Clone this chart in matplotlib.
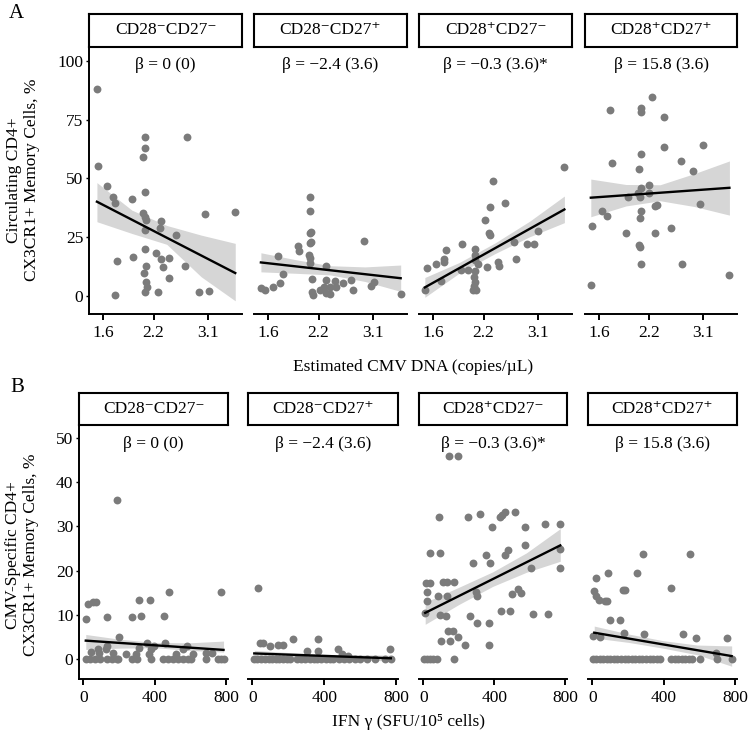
import matplotlib
matplotlib.use("Agg")
import matplotlib.pyplot as plt

plt.rcParams['font.family'] = ['Liberation Serif', 'DejaVu Serif']

# ---- labels ----
strip_labels = ['CD28⁻CD27⁻', 'CD28⁻CD27⁺', 'CD28⁺CD27⁻', 'CD28⁺CD27⁺']
beta_labels = ['β = 0 (0)', 'β = −2.4 (3.6)', 'β = −0.3 (3.6)*', 'β = 15.8 (3.6)']
a_ticks = [1.6, 2.2, 3.1]
a_yticks = [0, 25, 50, 75, 100]
b_ticks = [0, 400, 800]
b_yticks = [0, 10, 20, 30, 40, 50]

# ---- row A: circulating cells vs CMV DNA ----
a1_x = [1.54, 1.55, 1.64, 1.70, 1.73, 1.75, 1.73, 1.92, 1.93, 2.06, 2.09, 2.09, 2.09,
        2.06, 2.08, 2.10, 2.09, 2.09, 2.10, 2.07, 2.10, 2.11, 2.08, 2.23, 2.26, 2.30,
        2.29, 2.30, 2.34, 2.42, 2.43, 2.54, 2.68, 2.72, 2.93, 3.11, 3.05, 3.68]
a1_y = [88, 55.2, 46.7, 42.2, 39.4, 14.9, 0.6, 41.1, 16.7, 59.1, 67.7, 63.0, 44.1,
        35.1, 33.4, 32.3, 28.0, 19.8, 12.9, 9.9, 6.1, 3.7, 1.8, 18.4, 1.8, 31.9,
        28.8, 15.6, 12.2, 16.1, 7.9, 25.9, 12.9, 67.7, 1.6, 2.1, 34.8, 35.7]

a2_x = [1.53, 1.57, 1.65, 1.70, 1.73, 1.76, 1.93, 1.94, 2.07, 2.09, 2.09, 2.09, 2.09,
        2.09, 2.09, 2.10, 2.10, 2.11, 2.11, 2.12, 2.22, 2.28, 2.30, 2.30, 2.31, 2.36,
        2.36, 2.44, 2.45, 2.56, 2.70, 2.73, 2.93, 3.07, 3.12, 3.69]
a2_y = [3.3, 2.8, 3.7, 17.0, 5.7, 9.3, 21.4, 19.1, 17.4, 16.0, 13.9, 22.4, 27.0,
        36.1, 42.2, 22.8, 27.2, 7.2, 1.8, 0.5, 2.5, 3.7, 12.9, 6.8, 1.4, 0.7,
        3.7, 6.4, 3.7, 5.4, 6.8, 2.8, 23.5, 4.2, 6.1, 1.1]

a3_x = [3.66, 2.33, 2.52, 2.29, 2.22, 2.28, 2.29, 3.10, 2.89, 3.03, 2.67, 2.70, 2.41,
        2.42, 2.25, 2.12, 2.09, 2.09, 2.09, 2.08, 2.07, 2.09, 2.07, 2.06, 2.10, 1.92,
        1.91, 1.74, 1.72, 1.71, 1.63, 1.54, 1.68, 1.52, 2.00]
a3_y = [55.0, 48.9, 39.7, 37.7, 32.3, 26.9, 26.0, 27.6, 22.0, 22.0, 23.1, 15.7, 14.6,
        12.7, 12.5, 13.6, 19.8, 17.4, 15.3, 10.8, 8.2, 6.1, 4.3, 2.4, 2.4, 22.0,
        11.3, 19.5, 15.6, 14.6, 13.5, 12.0, 6.4, 2.5, 11.3]

a4_x = [1.52, 1.53, 1.63, 1.68, 1.72, 1.74, 1.90, 1.93, 2.05, 2.06, 2.09, 2.09, 2.09,
        2.09, 2.08, 2.09, 2.08, 2.06, 2.07, 2.09, 2.24, 2.20, 2.20, 2.29, 2.31, 2.29,
        2.42, 2.42, 2.53, 2.70, 2.71, 2.90, 3.10, 3.04, 3.66]
a4_y = [4.7, 29.7, 36.1, 34.0, 79.0, 56.4, 26.6, 42.2, 43.9, 53.8, 79.8, 78.2, 60.3,
        45.8, 42.2, 36.3, 33.1, 21.7, 21.0, 13.6, 84.4, 47.2, 43.9, 38.4, 38.5, 26.6,
        76.2, 63.5, 29.0, 57.5, 13.6, 53.3, 64.2, 39.1, 8.8]

# fitted lines and confidence bands
a1_fx = [1.54, 1.92, 2.39, 2.97, 3.68]
a1_fit = [40.1, 9.8]
a1_lo = [31.6, 26.6, 22.0, 8.2, -2.0]
a1_hi = [48.2, 36.5, 30.0, 25.9, 22.4]

a2_fx = [1.53, 1.90, 2.37, 2.95, 3.69]
a2_fit = [14.3, 7.6]
a2_lo = [10.3, 9.7, 9.0, 6.2, 2.0]
a2_hi = [18.4, 15.5, 12.9, 12.4, 13.2]

a3_fx = [1.52, 1.89, 2.36, 2.94, 3.66]
a3_fit = [3.7, 36.8]
a3_lo = [-0.5, 9.8, 18.0, 25.2, 31.2]
a3_hi = [7.9, 14.3, 22.5, 31.8, 42.5]

a4_fx = [1.52, 1.90, 2.36, 2.94, 3.66]
a4_fit = [41.8, 46.0]
a4_lo = [33.7, 38.3, 40.5, 38.0, 34.4]
a4_hi = [49.7, 47.4, 47.3, 52.1, 57.4]

# ---- row B: CMV-specific cells vs IFN gamma ----
b1_x = [13, 28, 56, 69, 186, 134, 201, 270, 309, 322, 372, 452, 478, 768,
        41, 84, 89, 126, 134, 164, 236, 292, 313, 357, 381, 394, 368, 456, 521, 558,
        580, 614, 688, 722,
        13, 37, 65, 93, 130, 158, 186, 195, 270, 298, 381, 446, 474, 502, 530, 558,
        586, 604, 688, 753, 772, 785]
b1_y = [9.0, 12.3, 12.8, 12.9, 36.0, 9.4, 5.0, 9.4, 13.4, 9.7, 13.4, 9.7, 15.1, 15.1,
        1.5, 2.3, 1.2, 2.3, 2.9, 1.2, 1.0, 1.1, 2.5, 3.6, 2.1, 2.9, 1.0, 3.6, 1.1, 2.1,
        2.9, 1.1, 1.4, 1.4,
        0, 0, 0, 0, 0, 0, 0, 0, 0, 0, 0, 0, 0, 0, 0, 0,
        0, 0, 0, 0, 0, 0]

b2_x = [30, 40, 58, 96, 140, 168, 228, 303, 363, 363, 476, 499, 532, 763,
        10, 25, 45, 70, 90, 110, 130, 150, 170, 190, 210, 250, 270, 290, 320, 340,
        360, 380, 410, 430, 450, 480, 510, 540, 570, 600, 640, 684, 740, 770]
b2_y = [16.0, 3.6, 3.6, 2.9, 3.1, 3.1, 4.4, 1.7, 4.4, 1.7, 2.3, 1.0, 0.6, 2.1,
        0, 0, 0, 0, 0, 0, 0, 0, 0, 0, 0, 0, 0, 0, 0, 0,
        0, 0, 0, 0, 0, 0, 0, 0, 0, 0, 0, 0, 0, 0]

b3_x = [144, 196, 90, 252, 318, 389, 434, 445, 458, 514, 574, 686, 772, 574, 476, 462,
        355, 378, 277, 38, 94, 607, 772, 772, 15, 38, 112, 131, 174, 22, 22, 81, 131,
        295, 303, 501, 533, 552, 10, 94, 127, 262, 303, 370, 439, 486, 617, 701, 137,
        168, 196, 99, 150, 234, 368,
        5, 20, 35, 55, 75, 174]
b3_y = [46.0, 46.0, 32.1, 32.1, 32.8, 29.9, 32.1, 32.7, 33.2, 33.2, 29.9, 30.5, 30.5,
        25.9, 24.7, 23.6, 23.5, 21.7, 21.7, 24.0, 24.0, 20.6, 24.9, 20.6, 17.2, 17.2,
        17.3, 17.3, 17.4, 15.1, 13.0, 14.3, 14.3, 15.1, 14.3, 14.6, 15.7, 14.9, 10.4,
        10.0, 9.7, 9.7, 8.1, 8.1, 10.8, 10.8, 10.2, 10.2, 6.3, 6.3, 4.9, 4.0, 4.0, 3.2,
        3.2,
        0, 0, 0, 0, 0, 0]

b4_x = [22, 11, 19, 37, 69, 82, 87, 97, 153, 172, 181, 175, 247, 284, 289, 439, 505,
        545, 579, 754, 4, 41, 695,
        5, 20, 40, 60, 80, 100, 120, 140, 160, 180, 200, 220, 240, 260, 280, 300, 320,
        340, 360, 380, 440, 460, 480, 500, 520, 540, 560, 600, 700, 780]
b4_y = [18.3, 15.3, 14.3, 13.3, 13.0, 13.0, 19.5, 8.7, 8.7, 15.5, 15.5, 5.9, 19.5, 23.8,
        5.7, 16.1, 5.7, 23.8, 4.8, 4.8, 5.1, 5.0, 1.4,
        0, 0, 0, 0, 0, 0, 0, 0, 0, 0, 0, 0, 0, 0, 0, 0, 0,
        0, 0, 0, 0, 0, 0, 0, 0, 0, 0, 0, 0, 0]

b1_fx = [13, 206, 399, 592, 785]
b1_fit = [4.1, 2.0]
b1_lo = [2.1, 2.4, 2.5, 1.9, 1.5]
b1_hi = [5.5, 4.4, 3.7, 3.6, 4.0]

b2_fx = [10, 200, 390, 580, 770]
b2_fit = [1.2, 0.1]
b2_lo = [0.5, 0.5, 0.3, -0.1, -0.6]
b2_hi = [1.9, 1.4, 1.0, 0.9, 0.8]

b3_fx = [10, 200, 391, 581, 772]
b3_fit = [10.4, 25.7]
b3_lo = [7.8, 12.3, 16.4, 19.6, 22.1]
b3_hi = [12.8, 16.2, 19.7, 24.0, 29.5]

b4_fx = [10, 202, 395, 587, 780]
b4_fit = [5.9, 0.6]
b4_lo = [4.7, 3.7, 2.4, 0.9, -1.7]
b4_hi = [7.4, 5.6, 4.1, 3.1, 2.9]

W, H = 749, 734
POINT = '#7b7b7b'
BAND = '#d6d6d6'
FS = 12.5


def px_axes(fig, left, top, right, bottom):
    return fig.add_axes([left / W, 1 - bottom / H, (right - left) / W, (bottom - top) / H])


def draw_strip(fig, left, top, right, bottom, label):
    sax = px_axes(fig, left, top, right, bottom)
    sax.set_xticks([])
    sax.set_yticks([])
    for sp in sax.spines.values():
        sp.set_linewidth(1.5)
    sax.text(0.5, 0.5, label, ha='center', va='center', fontsize=FS, transform=sax.transAxes)


def draw_panel(ax, x, y, fx, fit, lo, hi, first):
    ax.fill_between(fx, lo, hi, color=BAND, lw=0, zorder=1)
    ax.scatter(x, y, s=32, color=POINT, lw=0, zorder=2)
    ax.plot([fx[0], fx[-1]], fit, color='black', lw=1.7, zorder=3)
    ax.spines['top'].set_visible(False)
    ax.spines['right'].set_visible(False)
    ax.spines['bottom'].set_linewidth(1.4)
    ax.spines['left'].set_linewidth(1.4)
    ax.tick_params(axis='x', length=4, width=1.4, pad=4, labelsize=FS)
    ax.tick_params(axis='y', length=2.5, width=1.0, pad=1.5, labelsize=FS)
    if not first:
        ax.spines['left'].set_visible(False)
        ax.tick_params(axis='y', left=False, labelleft=False)


fig = plt.figure(figsize=(W / 100, H / 100), dpi=100)

# row A
a_pos = [(89, 242), (254, 407), (419, 572), (585, 737)]
a_data = [(a1_x, a1_y, a1_fx, a1_fit, a1_lo, a1_hi),
          (a2_x, a2_y, a2_fx, a2_fit, a2_lo, a2_hi),
          (a3_x, a3_y, a3_fx, a3_fit, a3_lo, a3_hi),
          (a4_x, a4_y, a4_fx, a4_fit, a4_lo, a4_hi)]
for i, ((l, r), d) in enumerate(zip(a_pos, a_data)):
    ax = px_axes(fig, l, 47, r, 314)
    draw_panel(ax, *d, first=(i == 0))
    ax.set_xscale('log')
    ax.set_xlim(1.465, 3.84)
    ax.set_ylim(-7.6, 105.8)
    ax.set_xticks(a_ticks)
    ax.set_xticklabels([str(t) for t in a_ticks])
    ax.minorticks_off()
    ax.set_yticks(a_yticks)
    ax.annotate(beta_labels[i], xy=(0.5, 98), xycoords=('axes fraction', 'data'),
                ha='center', va='center', fontsize=FS)
    draw_strip(fig, l, 14, r, 47, strip_labels[i])

# row B
b_pos = [(79, 228), (248, 398), (419, 567), (588, 737)]
b_data = [(b1_x, b1_y, b1_fx, b1_fit, b1_lo, b1_hi),
          (b2_x, b2_y, b2_fx, b2_fit, b2_lo, b2_hi),
          (b3_x, b3_y, b3_fx, b3_fit, b3_lo, b3_hi),
          (b4_x, b4_y, b4_fx, b4_fit, b4_lo, b4_hi)]
for i, ((l, r), d) in enumerate(zip(b_pos, b_data)):
    ax = px_axes(fig, l, 425, r, 679)
    draw_panel(ax, *d, first=(i == 0))
    ax.set_xlim(-25, 810)
    ax.set_ylim(-4.6, 53)
    ax.set_xticks(b_ticks)
    ax.set_yticks(b_yticks)
    ax.annotate(beta_labels[i], xy=(0.5, 48.8), xycoords=('axes fraction', 'data'),
                ha='center', va='center', fontsize=FS)
    draw_strip(fig, l, 393, r, 425, strip_labels[i])

# axis titles and panel letters
fig.text(16 / W, 1 - 13 / H, 'A', fontsize=15, ha='center', va='center')
fig.text(17 / W, 1 - 388 / H, 'B', fontsize=15, ha='center', va='center')
fig.text(23 / W, 1 - 180 / H, 'Circulating CD4+\nCX3CR1+ Memory Cells, %', rotation=90,
         ha='center', va='center', multialignment='center', fontsize=FS, linespacing=1.2)
fig.text(22 / W, 1 - 555 / H, 'CMV-Specific CD4+\nCX3CR1+ Memory Cells, %', rotation=90,
         ha='center', va='center', multialignment='center', fontsize=FS, linespacing=1.2)
fig.text(413 / W, 1 - 367 / H, 'Estimated CMV DNA (copies/µL)', ha='center', va='center',
         fontsize=FS)
fig.text(408 / W, 1 - 722 / H, 'IFN γ (SFU/10⁵ cells)', ha='center', va='center',
         fontsize=FS)

fig.savefig('out.png', dpi=100, facecolor='white')
